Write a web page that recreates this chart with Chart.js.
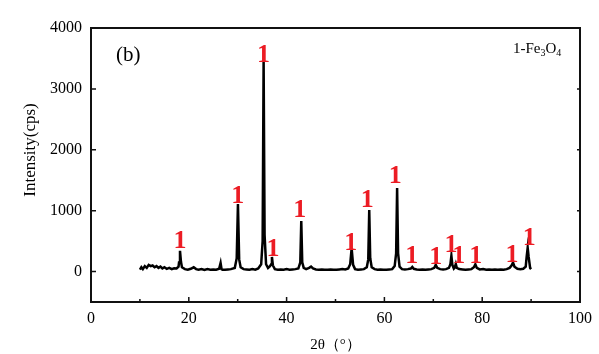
<!DOCTYPE html>
<html><head><meta charset="utf-8">
<script src="https://cdn.jsdelivr.net/npm/chart.js@4/dist/chart.umd.min.js"></script>
<style>html,body{margin:0;padding:0;background:#fff;}#wrap{width:599px;height:354px;}</style>
</head><body><div id="wrap"><canvas id="c" width="599" height="354"></canvas></div>
<script>
// ---- data ----
const twoTheta = [
 10.0,10.3,10.6,11.0,11.4,11.8,12.2,12.6,13.0,13.4,13.8,14.2,14.6,15.0,15.5,16.0,16.5,17.0,17.5,17.9,
 18.0,18.2,18.4,18.6,19.2,19.8,20.4,21.0,21.5,22.0,22.6,23.2,23.8,24.4,25.0,25.6,26.2,26.5,26.7,26.9,
 27.4,28.0,28.6,29.4,29.8,30.05,30.3,30.6,31.2,31.8,32.4,33.0,33.6,34.2,34.8,35.1,35.3,35.5,35.8,36.2,
 36.6,36.85,37.0,37.2,37.6,38.2,38.8,39.4,40.0,40.6,41.2,41.8,42.4,42.8,43.0,43.2,43.5,44.0,44.6,45.0,
 45.4,46.0,46.6,47.2,47.8,48.4,49.0,49.6,50.2,50.8,51.4,52.0,52.6,53.0,53.3,53.6,54.0,54.6,55.2,55.8,
 56.4,56.7,56.9,57.1,57.4,58.0,58.6,59.2,59.8,60.4,61.0,61.6,62.1,62.4,62.6,62.8,63.1,63.6,64.2,64.8,
 65.4,65.7,66.0,66.6,67.2,67.8,68.4,69.0,69.6,70.2,70.5,70.8,71.4,72.0,72.6,73.2,73.5,73.7,73.9,74.2,
 74.4,74.6,74.8,75.3,76.0,76.6,77.2,77.8,78.3,78.6,78.9,79.5,80.2,80.8,81.4,82.0,82.6,83.2,83.8,84.4,
 85.0,85.6,86.0,86.3,86.6,87.2,87.8,88.4,88.9,89.1,89.3,89.5,89.8,90.0
];
const intensity = [
 30,70,40,90,60,110,90,100,70,90,60,80,50,70,45,60,40,55,50,80,
 150,340,160,70,40,30,45,70,40,30,40,25,40,30,35,30,45,140,40,30,
 30,35,40,60,220,1110,200,70,40,35,30,40,30,50,120,500,3460,600,120,60,
 90,120,240,100,40,30,35,30,40,30,35,40,50,150,830,150,60,40,60,80,
 50,35,30,35,30,30,35,30,30,35,40,35,50,120,380,110,40,30,35,40,
 70,200,1010,220,70,40,30,35,30,30,35,40,90,300,1370,300,80,40,35,40,
 50,75,45,35,30,35,30,35,40,60,110,60,40,35,40,60,120,260,110,50,
 70,125,60,40,35,30,35,40,70,120,60,35,40,30,35,30,35,30,35,30,
 40,60,100,150,80,45,40,45,80,250,390,240,60,40
];
// phase markers "1" (Fe3O4): position in 2θ and intensity where each label sits
const markerTheta = [18.2,30.0,35.3,37.2,42.7,53.1,56.5,62.2,65.6,70.5,73.6,75.2,78.7,86.1,89.6];
const markerIntensity = [390,1125,3445,258,900,356,1067,1450,142,126,328,148,148,159,438];
const markerText = '1';
const xTickValues = [0,20,40,60,80,100];
const xMinorTicks = [10,30,50,70,90];
const yTickValues = [0,1000,2000,3000,4000];

const serif = '"Liberation Serif","Times New Roman",serif';

const decor = {
  id: 'decor',
  afterDraw(chart) {
    const ctx = chart.ctx, a = chart.chartArea;
    const xs = chart.scales.x, ys = chart.scales.y;
    ctx.save();
    // frame
    ctx.strokeStyle = '#111';
    ctx.lineWidth = 2;
    ctx.beginPath();
    ctx.moveTo(a.left, a.top); ctx.lineTo(a.right, a.top); ctx.lineTo(a.right, a.bottom);
    ctx.lineTo(a.left, a.bottom); ctx.closePath();
    ctx.stroke();
    // inward ticks
    ctx.lineWidth = 1.5;
    ctx.beginPath();
    xTickValues.forEach(v => { const px = xs.getPixelForValue(v); ctx.moveTo(px, a.bottom); ctx.lineTo(px, a.bottom - 5); });
    xMinorTicks.forEach(v => { const px = xs.getPixelForValue(v); ctx.moveTo(px, a.bottom); ctx.lineTo(px, a.bottom - 3); });
    yTickValues.forEach(v => { const py = ys.getPixelForValue(v);
      ctx.moveTo(a.left, py); ctx.lineTo(a.left + 5, py);
      ctx.moveTo(a.right, py); ctx.lineTo(a.right - 3, py); });
    ctx.stroke();
    // phase markers
    ctx.fillStyle = '#ec1c24';
    ctx.font = 'bold 26px ' + serif;
    ctx.textAlign = 'center';
    ctx.textBaseline = 'alphabetic';
    markerTheta.forEach((t, i) => {
      ctx.fillText(markerText, xs.getPixelForValue(t), ys.getPixelForValue(markerIntensity[i]));
    });
    // panel label
    ctx.fillStyle = '#000';
    ctx.font = '21px ' + serif;
    ctx.textAlign = 'left';
    ctx.fillText('(b)', 116, 61);
    // phase legend 1-Fe3O4
    let x = 513; const yb = 53;
    const parts = [['1-Fe',0],['3',1],['O',0],['4',1]];
    parts.forEach(([s, sub]) => {
      ctx.font = (sub ? '10px ' : '15px ') + serif;
      ctx.fillText(s, x, yb + (sub ? 3 : 0));
      x += ctx.measureText(s).width;
    });
    // y axis title
    ctx.save();
    ctx.translate(31, 150);
    ctx.rotate(-Math.PI / 2);
    ctx.font = '17px ' + serif;
    ctx.textAlign = 'center';
    ctx.textBaseline = 'middle';
    ctx.fillText('Intensity(cps)', 0, 0);
    ctx.restore();
    ctx.restore();
  }
};

new Chart(document.getElementById('c'), {
  type: 'line',
  data: {
    datasets: [{
      data: twoTheta.map((t, i) => ({ x: t, y: intensity[i] })),
      borderColor: '#000',
      borderWidth: 2.5,
      pointRadius: 0,
      tension: 0,
      fill: false
    }]
  },
  options: {
    responsive: false,
    animation: false,
    layout: { padding: { top: 28, right: 19, left: 0, bottom: 0 } },
    plugins: { legend: { display: false }, tooltip: { enabled: false } },
    scales: {
      x: {
        type: 'linear', min: 0, max: 100,
        afterBuildTicks: s => { s.ticks = xTickValues.map(v => ({ value: v })); },
        afterFit: s => { s.height = 52; },
        grid: { display: false, drawTicks: false },
        border: { display: false },
        ticks: { color: '#000', font: { family: serif, size: 16 }, padding: 7, maxRotation: 0, callback: v => String(v) },
        title: { display: true, text: '2θ（°）', color: '#000', font: { family: serif, size: 15 }, padding: { top: 2, bottom: 0 } }
      },
      y: {
        min: -500, max: 4000,
        afterBuildTicks: s => { s.ticks = yTickValues.map(v => ({ value: v })); },
        afterFit: s => { s.width = 91; },
        grid: { display: false, drawTicks: false },
        border: { display: false },
        ticks: { color: '#000', font: { family: serif, size: 16 }, padding: 9, callback: v => String(v) }
      }
    }
  },
  plugins: [decor]
});
</script></body></html>
